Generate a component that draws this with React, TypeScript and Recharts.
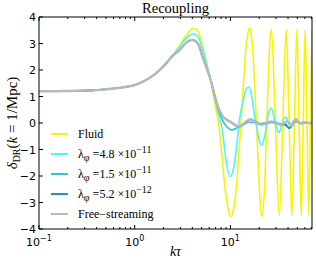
import React from "react";
import { LineChart, Line, XAxis, YAxis, Legend } from "recharts";

// k*tau on a log axis, delta_DR on a linear axis
const xMajor = [0.1, 1, 10];
const xMajorExp = ["\u22121", "0", "1"];
const xMinor = [
  0.2, 0.3, 0.4, 0.5, 0.6, 0.7, 0.8, 0.9,
  2, 3, 4, 5, 6, 7, 8, 9,
  20, 30, 40, 50, 60, 70,
];
const yTicks = [-4, -3, -2, -1, 0, 1, 2, 3, 4];

// shared super-horizon part, all models agree here
const early: [number, number][] = [
  [0.1, 1.2], [0.15, 1.2], [0.2, 1.21], [0.3, 1.22], [0.43, 1.25], [0.6, 1.3],
  [0.8, 1.36], [1.0, 1.43], [1.25, 1.58], [1.5, 1.75], [1.8, 1.98], [2.14, 2.26],
  [2.5, 2.54],
];

const fluid: [number, number][] = [
  ...early,
  [2.95, 2.94], [3.5, 3.33], [4.1, 3.57], [4.6, 3.45], [5.1, 2.9], [5.7, 2.2],
  [6.3, 1.5], [6.9, 0.7], [7.5, 0.0], [8.1, -1.1], [8.7, -2.3], [9.3, -3.1],
  [10.1, -3.53], [10.8, -3.25], [11.5, -2.5], [12.2, -1.3], [12.9, 0.0],
  [13.6, 1.3], [14.3, 2.5], [15.1, 3.3], [15.9, 3.58], [16.6, 3.3], [17.3, 2.5],
  [18.0, 1.3], [18.7, 0.0], [19.4, -1.3], [20.1, -2.5], [20.8, -3.3],
  [21.4, -3.52], [22.7, -2.5], [24.0, 0.0], [25.4, 2.5], [26.7, 3.55],
  [29.5, 0.0], [32.4, -3.5], [35.3, 0.0], [38.3, 3.54], [41.1, 0.0],
  [43.9, -3.5], [46.7, 0.0], [49.5, 3.53], [52.2, 0.0], [55.0, -3.5],
  [57.7, 0.0], [60.4, 3.52], [63.1, 0.0], [65.9, -3.48], [68.5, 0.0],
  [71.2, 3.5],
];

const lam48: [number, number][] = [
  ...early,
  [2.95, 2.88], [3.5, 3.22], [4.1, 3.36], [4.6, 3.25], [5.1, 2.8], [5.7, 2.15],
  [6.3, 1.56], [6.9, 0.9], [7.4, 0.45], [8.25, -0.3], [9.0, -1.4], [9.9, -2.02],
  [10.8, -1.7], [11.6, -0.9], [12.4, 0.1], [13.5, 0.8], [14.5, 1.25],
  [15.5, 1.36], [16.5, 1.1], [17.5, 0.5], [18.7, -0.1], [19.8, -0.6],
  [21.2, -0.84], [22.5, -0.6], [24.0, 0.0], [25.3, 0.45], [26.6, 0.56],
  [28.0, 0.35], [29.6, -0.05], [31.0, -0.3], [32.3, -0.36], [33.8, -0.15],
  [35.3, 0.05], [36.8, 0.2], [38.2, 0.21], [40.0, 0.05], [41.2, -0.05],
  [43.8, -0.12], [46.5, 0.0], [49.5, 0.07], [55.0, -0.04], [60.0, 0.03],
  [65.0, -0.02], [71.2, 0.0],
];

const lam15: [number, number][] = [
  ...early,
  [2.95, 2.75], [3.5, 3.05], [4.0, 3.14], [4.6, 3.0], [5.1, 2.55], [5.7, 2.05],
  [6.3, 1.56], [6.9, 0.95], [7.4, 0.55], [8.3, 0.1], [9.2, -0.15], [10.3, -0.26],
  [11.5, -0.2], [12.7, -0.1], [14.0, -0.04], [15.5, 0.03], [17.5, 0.02],
  [20.0, -0.03], [23.0, 0.0], [27.0, 0.02], [31.0, -0.03], [35.0, -0.05],
  [38.0, -0.1], [41.0, -0.18], [43.0, -0.12], [46.0, 0.0], [49.0, 0.05],
  [55.0, 0.0], [62.0, 0.02], [71.2, 0.0],
];

const lam52: [number, number][] = [
  ...early,
  [2.95, 2.75], [3.5, 3.05], [4.0, 3.13], [4.6, 2.98], [5.1, 2.5], [5.7, 2.02],
  [6.3, 1.56], [6.9, 1.0], [7.4, 0.62], [8.3, 0.26], [9.2, 0.12], [10.2, 0.02],
  [11.3, -0.1], [12.5, -0.15], [13.8, -0.05], [15.0, 0.08], [16.5, 0.12],
  [18.5, 0.05], [21.0, -0.05], [24.0, -0.02], [27.0, 0.05], [30.0, 0.02],
  [34.0, -0.05], [38.0, -0.05], [41.0, -0.2], [43.0, -0.15], [45.5, 0.05],
  [48.0, 0.1], [52.0, 0.0], [58.0, 0.02], [64.0, 0.0], [71.2, 0.0],
];

const freeStream: [number, number][] = [
  ...early,
  [2.95, 2.75], [3.5, 3.05], [4.0, 3.13], [4.6, 2.98], [5.1, 2.5], [5.7, 2.02],
  [6.3, 1.56], [6.9, 1.0], [7.4, 0.62], [8.3, 0.26], [9.2, 0.12], [10.2, 0.03],
  [11.3, -0.08], [12.5, -0.14], [13.5, -0.05], [14.8, 0.08], [16.3, 0.14],
  [18.0, 0.05], [20.0, -0.05], [22.0, -0.06], [24.5, 0.02], [27.0, 0.06],
  [30.0, 0.0], [33.0, -0.06], [36.0, -0.02], [39.0, 0.06], [41.5, 0.0],
  [44.0, -0.12], [46.5, 0.05], [48.5, 0.15], [51.0, 0.03], [55.0, -0.02],
  [60.0, 0.03], [66.0, 0.0], [71.2, 0.01],
];

const toRows = (s: [number, number][]) => s.map(([x, y]) => ({ x, y }));

const series = [
  { key: "fluid", data: fluid, color: "#f5f500", width: 1.6 },
  { key: "l48", data: lam48, color: "#50f5f5", width: 1.6 },
  { key: "l15", data: lam15, color: "#2cc4e0", width: 1.6 },
  { key: "l52", data: lam52, color: "#1c94bf", width: 1.6 },
  { key: "free", data: freeStream, color: "#b8b8b8", width: 2.4 },
];

const W = 316;
const H = 265;
const serif = "'Liberation Serif', 'DejaVu Serif', serif";
const sans = "'DejaVu Sans', sans-serif";

const BottomTick = (props: any) => {
  const { x, y, payload } = props;
  const i = xMajor.indexOf(payload.value);
  return (
    <g>
      <line x1={x} x2={x} y1={y} y2={y - (i >= 0 ? 4 : 2)} stroke="#000" />
      {i >= 0 && (
        <text x={x} y={y + 17} textAnchor="middle" fontFamily={sans} fontSize={11} fill="#000">
          10<tspan dy={-5} fontSize={8}>{xMajorExp[i]}</tspan>
        </text>
      )}
    </g>
  );
};

const TopTick = (props: any) => {
  const { x, y, payload } = props;
  const major = xMajor.includes(payload.value);
  return <line x1={x} x2={x} y1={y} y2={y + (major ? 4 : 2)} stroke="#000" />;
};

const LeftTick = (props: any) => {
  const { x, y, payload } = props;
  const v = payload.value;
  return (
    <g>
      <line x1={x} x2={x + 4} y1={y} y2={y} stroke="#000" />
      <text x={x - 3} y={y + 4} textAnchor="end" fontFamily={sans} fontSize={11} fill="#000">
        {v < 0 ? "\u2212" + Math.abs(v) : v}
      </text>
    </g>
  );
};

const RightTick = (props: any) => {
  const { x, y } = props;
  return <line x1={x} x2={x - 4} y1={y} y2={y} stroke="#000" />;
};

const YLabel = (props: any) => {
  const vb = props.viewBox || { x: 0, y: 17, width: 39, height: 212 };
  const cx = 17;
  const cy = vb.y + vb.height / 2;
  return (
    <text x={cx} y={cy} transform={`rotate(-90, ${cx}, ${cy})`} textAnchor="middle" fontFamily={serif} fontSize={15} fill="#000">
      <tspan fontStyle="italic">δ</tspan>
      <tspan dy={3} fontSize={10}>DR</tspan>
      <tspan dy={-3}>(</tspan>
      <tspan fontStyle="italic">k</tspan>
      <tspan> = 1/Mpc)</tspan>
    </text>
  );
};

const XLabel = (props: any) => {
  const vb = props.viewBox || { x: 39, width: 273 };
  return (
    <text x={vb.x + vb.width / 2} y={H - 9} textAnchor="middle" fontFamily={serif} fontSize={14} fontStyle="italic" fill="#000">
      kτ
    </text>
  );
};

const Title = (props: any) => {
  const vb = props.viewBox || { x: 39, width: 273 };
  return (
    <text x={vb.x + vb.width / 2} y={13} textAnchor="middle" fontFamily={serif} fontSize={14.5} fill="#000">
      Recoupling
    </text>
  );
};

const legendLabels: React.ReactNode[] = [
  "Fluid",
  <>λ<sub>φ</sub> =4.8 ×10<sup>−11</sup></>,
  <>λ<sub>φ</sub> =1.5 ×10<sup>−11</sup></>,
  <>λ<sub>φ</sub> =5.2 ×10<sup>−12</sup></>,
  "Free−streaming",
];

const LegendBox = () => (
  <div style={{ fontFamily: serif, fontSize: 12, color: "#000" }}>
    {series.map((s, i) => (
      <div key={s.key} style={{ display: "flex", alignItems: "center", height: 20 }}>
        <div style={{ width: 17, height: s.key === "free" ? 2 : 1.6, background: s.color, marginRight: 10 }} />
        <span style={{ lineHeight: "12px" }}>{legendLabels[i]}</span>
      </div>
    ))}
  </div>
);

export default function App() {
  return (
    <div style={{ position: "absolute", left: 0, top: 0, width: W, height: H, background: "#fff" }}>
      <LineChart width={W} height={H} margin={{ top: 0, right: 0, bottom: 0, left: 0 }}>
        <XAxis
          dataKey="x"
          type="number"
          scale="log"
          domain={[0.1, 71.2]}
          allowDataOverflow
          ticks={[...xMajor, ...xMinor]}
          interval={0}
          tick={<BottomTick />}
          tickLine={false}
          tickSize={0}
          tickMargin={0}
          height={36}
          axisLine={{ stroke: "#000" }}
          label={<XLabel />}
        />
        <XAxis
          xAxisId="top"
          orientation="top"
          dataKey="x"
          type="number"
          scale="log"
          domain={[0.1, 71.2]}
          allowDataOverflow
          ticks={[...xMajor, ...xMinor]}
          interval={0}
          tick={<TopTick />}
          tickLine={false}
          tickSize={0}
          tickMargin={0}
          height={17}
          axisLine={{ stroke: "#000" }}
          label={<Title />}
        />
        <YAxis
          type="number"
          domain={[-4, 4]}
          ticks={yTicks}
          interval={0}
          tick={<LeftTick />}
          tickLine={false}
          tickSize={0}
          tickMargin={0}
          width={39}
          axisLine={{ stroke: "#000" }}
          label={<YLabel />}
        />
        <YAxis
          yAxisId="right"
          orientation="right"
          type="number"
          domain={[-4, 4]}
          ticks={yTicks}
          interval={0}
          tick={<RightTick />}
          tickLine={false}
          tickSize={0}
          tickMargin={0}
          width={4}
          axisLine={{ stroke: "#000" }}
        />
        <Legend
          layout="vertical"
          align="center"
          verticalAlign="middle"
          content={<LegendBox />}
          wrapperStyle={{ position: "absolute", left: 51, top: 124, width: 160, height: 100 }}
        />
        {series.map((s) => (
          <Line
            key={s.key}
            data={toRows(s.data)}
            dataKey="y"
            type="monotone"
            stroke={s.color}
            strokeWidth={s.width}
            dot={false}
            activeDot={false}
            isAnimationActive={false}
          />
        ))}
      </LineChart>
    </div>
  );
}
